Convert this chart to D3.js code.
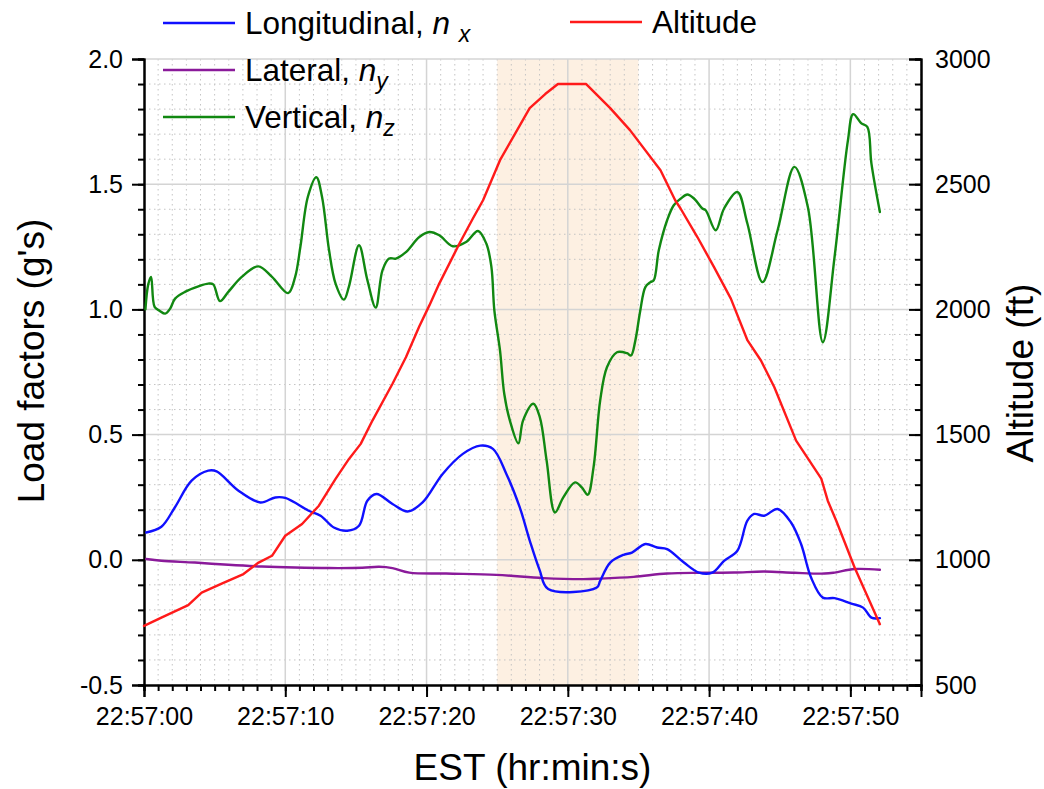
<!DOCTYPE html>
<html>
<head>
<meta charset="utf-8">
<script src="https://cdn.jsdelivr.net/npm/d3@7"></script>
<style>
  html, body { margin: 0; padding: 0; background: #fff; }
  svg { display: block; font-family: "Liberation Sans", Arial, sans-serif; }
</style>
</head>
<body>
<svg id="chart" width="1044" height="789"></svg>
<script>
// ---------- DATA ----------
const xTickSeconds = [0, 10, 20, 30, 40, 50];
const xTickLabels = ["22:57:00", "22:57:10", "22:57:20", "22:57:30", "22:57:40", "22:57:50"];
const leftTicks = [-0.5, 0.0, 0.5, 1.0, 1.5, 2.0];
const leftTickLabels = ["-0.5", "0.0", "0.5", "1.0", "1.5", "2.0"];
const rightTicks = [500, 1000, 1500, 2000, 2500, 3000];
const rightTickLabels = ["500", "1000", "1500", "2000", "2500", "3000"];
const shadeStart = 25, shadeEnd = 35;

// Longitudinal n_x  [seconds after 22:57:00, g]
const nxTime = [0.16,1.23,2.18,3.37,4.55,5.14,6.69,8.23,9.29,10.0,11.66,12.5,13.44,14.39,15.22,15.81,16.45,17.59,18.66,19.72,21.14,22.57,23.8,24.7,25.65,26.6,27.31,28.0,28.61,32.05,32.29,33.0,33.95,34.54,35.49,36.32,37.03,38.22,39.28,40.23,41.06,42.0,42.71,43.19,43.9,44.85,45.8,46.51,47.22,48.05,48.88,50.07,50.9,51.49,52.09];
const nxValue = [0.109,0.132,0.209,0.316,0.356,0.353,0.276,0.229,0.249,0.247,0.196,0.176,0.129,0.116,0.136,0.236,0.263,0.223,0.193,0.229,0.343,0.423,0.456,0.443,0.343,0.209,0.076,-0.04,-0.117,-0.111,-0.084,-0.011,0.02,0.029,0.063,0.049,0.043,-0.011,-0.051,-0.051,-0.004,0.036,0.156,0.183,0.176,0.203,0.149,0.063,-0.071,-0.151,-0.153,-0.175,-0.191,-0.231,-0.233];

// Lateral n_y
const nyTime = [0.16,1.23,3.6,5.97,8.34,10.7,13.09,15.46,16.64,17.59,18.78,21.39,24.94,28.26,31.1,32.29,34.66,37.03,39.4,41.77,43.9,46.04,48.17,48.88,50.3,52.09];
const nyValue = [0.003,-0.004,-0.011,-0.02,-0.027,-0.031,-0.033,-0.032,-0.028,-0.033,-0.051,-0.055,-0.06,-0.073,-0.077,-0.075,-0.068,-0.055,-0.052,-0.051,-0.047,-0.052,-0.055,-0.051,-0.037,-0.04];

// Vertical n_z
const nzTime = [0.1,0.3,0.5,0.75,1.1,1.5,1.85,2.2,2.9,3.85,4.55,4.9,5.38,5.97,6.92,8.1,9.06,10.2,10.7,11.07,11.6,12.2,12.6,13.1,13.56,14.15,14.5,15.22,15.8,16.4,16.88,17.35,17.83,18.54,19.49,20.2,20.9,21.86,22.8,23.64,24.23,24.59,24.8,25.2,25.5,25.9,26.5,26.83,27.56,28.02,28.5,29.09,29.68,30.51,30.99,31.41,31.82,32.29,32.77,33.48,34.19,34.47,34.78,35.13,35.49,35.85,36.08,36.44,37.03,37.5,38.0,38.46,38.93,39.52,39.76,40.47,41.06,42.0,42.71,43.78,44.85,46.04,46.99,48.05,48.88,49.83,50.2,50.78,51.2,51.49,52.09];
const nzValue = [1.00,1.10,1.13,1.01,0.995,0.983,1.003,1.043,1.07,1.092,1.103,1.10,1.033,1.07,1.13,1.172,1.13,1.065,1.13,1.25,1.45,1.528,1.45,1.236,1.103,1.039,1.09,1.256,1.12,1.007,1.156,1.203,1.203,1.229,1.289,1.309,1.296,1.252,1.269,1.313,1.263,1.17,0.996,0.836,0.663,0.556,0.465,0.556,0.623,0.569,0.396,0.189,0.249,0.309,0.289,0.26,0.369,0.636,0.769,0.829,0.825,0.816,0.876,0.996,1.089,1.109,1.116,1.236,1.356,1.416,1.443,1.459,1.443,1.403,1.396,1.316,1.403,1.469,1.343,1.109,1.316,1.569,1.409,0.869,1.209,1.676,1.78,1.743,1.729,1.583,1.389];

// Altitude [ft]
const altTime = [0,1.23,3.13,4.08,5.5,7.04,8.11,9.06,10.0,11.19,12.38,13.56,14.51,15.34,16.17,17.59,18.54,19.49,20.2,20.9,22.33,23.28,24.0,24.3,25.2,27.3,28.4,29.3,31.3,33.0,34.4,36.56,37.6,37.98,39.17,40.35,41.54,42.72,43.67,44.62,46.16,47.94,48.4,49.0,50.3,52.09];
const altValue = [736,769,819,869,905,943,989,1016,1096,1143,1216,1323,1403,1463,1556,1703,1809,1933,2016,2103,2263,2363,2436,2476,2596,2804,2860,2900,2900,2804,2716,2556,2436,2403,2289,2169,2043,1876,1796,1689,1476,1324,1236,1156,969,743];

const legendLeft = ["Longitudinal", "Lateral", "Vertical"];
const legendSub = ["x", "y", "z"];
const legendRight = "Altitude";
const xTitle = "EST (hr:min:s)";
const yLeftTitle = "Load factors (g's)";
const yRightTitle = "Altitude (ft)";

// ---------- LAYOUT ----------
const L = 144, R = 921, T = 59, B = 685;
const colors = { nx: "#1010ff", ny: "#8a1a9a", nz: "#118811", alt: "#ff1a1a" };

const svg = d3.select("#chart");
const x = d3.scaleLinear().domain([0, 55]).range([L, R]);
const yL = d3.scaleLinear().domain([-0.5, 2.0]).range([B, T]);
const yR = d3.scaleLinear().domain([500, 3000]).range([B, T]);

// shaded band
svg.append("rect")
  .attr("x", x(shadeStart)).attr("y", T)
  .attr("width", x(shadeEnd) - x(shadeStart)).attr("height", B - T)
  .attr("fill", "#fdf0e2");

// grid
const grid = svg.append("g");
const minorX = d3.range(1, 56).filter(s => s % 10 !== 0);
const minorY = d3.range(-4, 21).map(i => i / 10).filter(v => Math.abs(v * 2 - Math.round(v * 2)) > 1e-6);
grid.selectAll(".mx").data(minorX).join("line")
  .attr("x1", d => x(d)).attr("x2", d => x(d)).attr("y1", T).attr("y2", B)
  .attr("stroke", "#c4c4c4").attr("stroke-width", 1).attr("stroke-dasharray", "1.5,3.5");
grid.selectAll(".my").data(minorY).join("line")
  .attr("y1", d => yL(d)).attr("y2", d => yL(d)).attr("x1", L).attr("x2", R)
  .attr("stroke", "#c4c4c4").attr("stroke-width", 1).attr("stroke-dasharray", "1.5,3.5");
grid.selectAll(".Mx").data(xTickSeconds.filter(d => d > 0)).join("line")
  .attr("x1", d => x(d)).attr("x2", d => x(d)).attr("y1", T).attr("y2", B)
  .attr("stroke", "#d4d4d4").attr("stroke-width", 1.5);
grid.selectAll(".My").data(leftTicks.filter(d => d > -0.5)).join("line")
  .attr("y1", d => yL(d)).attr("y2", d => yL(d)).attr("x1", L).attr("x2", R)
  .attr("stroke", "#d4d4d4").attr("stroke-width", 1.5);

// axes
const tickFont = "25px";
const fmtX = d => xTickLabels[xTickSeconds.indexOf(d)];
const xMinor = d3.axisBottom(x).tickValues(d3.range(0, 56)).tickSize(6).tickFormat("");
const xMajor = d3.axisBottom(x).tickValues(xTickSeconds).tickSize(12).tickPadding(10).tickFormat(fmtX);
const gxm = svg.append("g").attr("transform", `translate(0,${B})`).call(xMinor);
const gx = svg.append("g").attr("transform", `translate(0,${B})`).call(xMajor);

const yLMinor = d3.axisLeft(yL).tickValues(d3.range(-5, 21).map(i => i / 10)).tickSize(6).tickFormat("");
const yLMajor = d3.axisLeft(yL).tickValues(leftTicks).tickSize(12).tickPadding(9)
  .tickFormat(d => leftTickLabels[leftTicks.indexOf(d)]);
const gylm = svg.append("g").attr("transform", `translate(${L},0)`).call(yLMinor);
const gyl = svg.append("g").attr("transform", `translate(${L},0)`).call(yLMajor);

const yRMinor = d3.axisRight(yR).tickValues(d3.range(500, 3001, 100)).tickSize(-6).tickFormat("");
const yRMajor = d3.axisRight(yR).tickValues(rightTicks).tickSize(-12).tickPadding(14)
  .tickFormat(d => rightTickLabels[rightTicks.indexOf(d)]);
const gyrm = svg.append("g").attr("transform", `translate(${R},0)`).call(yRMinor);
const gyr = svg.append("g").attr("transform", `translate(${R},0)`).call(yRMajor);

[gxm, gx, gylm, gyl, gyrm, gyr].forEach(g => {
  g.select(".domain").attr("stroke", "#000").attr("stroke-width", 2);
  g.selectAll(".tick line").attr("stroke", "#000").attr("stroke-width", 2);
  g.selectAll(".tick text").attr("fill", "#000").style("font-size", tickFont)
    .style("font-family", '"Liberation Sans", Arial, sans-serif');
});
gx.selectAll(".tick text").attr("dy", "0.71em");

// lines
function drawLine(times, vals, yScale, color, curve) {
  const pts = times.map((t, i) => [t, vals[i]]);
  svg.append("path").datum(pts)
    .attr("fill", "none").attr("stroke", color).attr("stroke-width", 2.4)
    .attr("stroke-linejoin", "round").attr("stroke-linecap", "round")
    .attr("d", d3.line().x(d => x(d[0])).y(d => yScale(d[1])).curve(curve));
}
drawLine(nyTime, nyValue, yL, colors.ny, d3.curveCatmullRom.alpha(0.5));
drawLine(nxTime, nxValue, yL, colors.nx, d3.curveCatmullRom.alpha(0.5));
drawLine(nzTime, nzValue, yL, colors.nz, d3.curveCatmullRom.alpha(0.5));
drawLine(altTime, altValue, yR, colors.alt, d3.curveLinear);

// titles
svg.append("text").attr("x", (L + R) / 2).attr("y", 780).attr("text-anchor", "middle")
  .style("font-size", "37px").text(xTitle);
svg.append("text").attr("transform", "translate(44,361) rotate(-90)").attr("text-anchor", "middle")
  .style("font-size", "37px").text(yLeftTitle);
svg.append("text").attr("transform", "translate(1033,373) rotate(-90)").attr("text-anchor", "middle")
  .style("font-size", "37px").text(yRightTitle);

// legend
const legColors = [colors.nx, colors.ny, colors.nz];
const legY = [23, 70, 117];
legendLeft.forEach((name, i) => {
  svg.append("line").attr("x1", 163).attr("x2", 235).attr("y1", legY[i]).attr("y2", legY[i])
    .attr("stroke", legColors[i]).attr("stroke-width", 2.4);
  const t = svg.append("text").attr("x", 245).attr("y", legY[i] + 10.5).style("font-size", "31.5px");
  t.append("tspan").text(name + ", ");
  t.append("tspan").style("font-style", "italic").text("n");
  if (i === 0) t.append("tspan").text(" ");
  t.append("tspan").style("font-style", "italic").style("font-size", "23px").attr("dy", 8).text(legendSub[i]);
});
svg.append("line").attr("x1", 570).attr("x2", 642).attr("y1", 22).attr("y2", 22)
  .attr("stroke", colors.alt).attr("stroke-width", 2.4);
svg.append("text").attr("x", 652).attr("y", 33).style("font-size", "31.5px").text(legendRight);
</script>
</body>
</html>
